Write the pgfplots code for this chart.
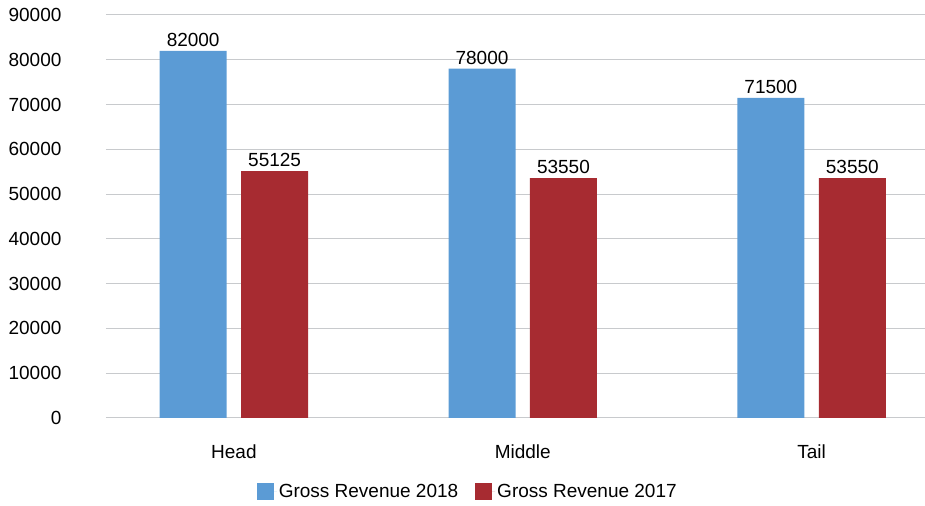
\documentclass[border=0pt]{standalone}
\usepackage{pgfplots}
\pgfplotsset{compat=1.18}
\usepackage{fontspec}
\setmainfont{Liberation Sans}
\definecolor{b18}{HTML}{5B9BD5}
\definecolor{r17}{HTML}{A72B31}
\definecolor{gridc}{HTML}{C8CACD}
\begin{document}
\fontsize{19}{22}\selectfont
\begin{tikzpicture}
\begin{axis}[name=ax, scale only axis, width=819pt, height=403pt,
  ybar, bar width=0.232,
  xmin=-0.443, xmax=2.391, ymin=0, ymax=90000,
  xtick={0,1,2}, xticklabels={Head,Middle,Tail},
  ytick={0,10000,...,90000},
  scaled y ticks=false,
  /pgf/number format/fixed, /pgf/number format/1000 sep={},
  /pgf/number format/assume math mode=true,
  axis line style={draw=none},
  major tick length=0pt,
  ymajorgrids, grid style={draw=gridc, line width=1pt},
  yticklabel style={xshift=-38pt},
  xticklabel style={yshift=-20pt},
  clip=false,
  nodes near coords, nodes near coords style={text=black, inner sep=4pt},
  legend style={at={(0.442,-0.184)}, anchor=center, draw=none, fill=none,
    legend columns=2, /tikz/every even column/.append style={column sep=15pt}},
  legend cell align=left,
  legend image code/.code={\fill[#1] (0pt,-8.5pt) rectangle (17pt,8.5pt); \path (17pt,0pt) -- (20pt,0pt);},
]
\addplot[bar shift=-0.141, fill=b18, draw=none]
  coordinates {(0,82000) (1,78000) (2,71500)};
\addplot[bar shift=0.141, fill=r17, draw=none]
  coordinates {(0,55125) (1,53550) (2,53550)};
\legend{Gross Revenue 2018, Gross Revenue 2017}
\end{axis}
\path ([xshift=-106pt,yshift=-88pt]ax.south west) rectangle ([yshift=15pt]ax.north east);
\end{tikzpicture}
\end{document}
